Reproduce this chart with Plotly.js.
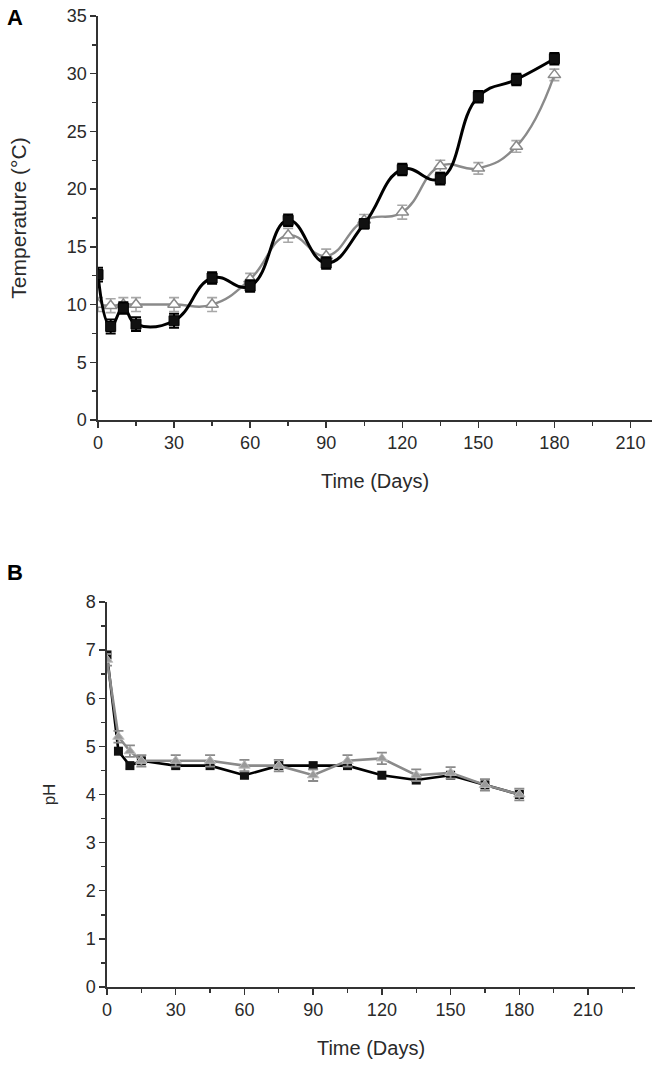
<!DOCTYPE html>
<html>
<head>
<meta charset="utf-8">
<script src="https://cdn.plot.ly/plotly-3.0.1.min.js"></script>
<style>
html,body{margin:0;padding:0;background:#fff;}
#chart{width:661px;height:1065px;}
</style>
</head>
<body>
<div id="chart"></div>
<script>
// ---- Data ----
const days = [0, 5, 10, 15, 30, 45, 60, 75, 90, 105, 120, 135, 150, 165, 180];

// Panel A: temperature (°C)
const tempBlack = [12.6, 8.1, 9.7, 8.3, 8.6, 12.3, 11.6, 17.3, 13.6, 17.0, 21.7, 20.9, 28.0, 29.5, 31.3];
const tempBlackErr = [0.6, 0.6, 0.5, 0.6, 0.6, 0.5, 0.5, 0.5, 0.5, 0.4, 0.5, 0.5, 0.5, 0.5, 0.5];
const tempGray = [10.0, 9.9, 10.0, 10.0, 10.0, 10.0, 12.2, 16.0, 14.2, 17.3, 18.0, 22.0, 21.8, 23.7, 29.9];
const tempGrayErr = [0.6, 0.6, 0.6, 0.6, 0.6, 0.6, 0.5, 0.6, 0.6, 0.5, 0.6, 0.5, 0.5, 0.5, 0.5];

// Panel B: pH
const phBlack = [6.9, 4.9, 4.6, 4.7, 4.6, 4.6, 4.4, 4.6, 4.6, 4.6, 4.4, 4.3, 4.4, 4.2, 4.0];
const phBlackErr = [0.06, 0.06, 0.06, 0.06, 0.06, 0.06, 0.06, 0.06, 0.06, 0.06, 0.06, 0.06, 0.06, 0.06, 0.06];
const phGray = [6.8, 5.2, 4.9, 4.7, 4.7, 4.7, 4.6, 4.6, 4.4, 4.7, 4.75, 4.4, 4.45, 4.2, 4.0];
const phGrayErr = [0.12, 0.12, 0.12, 0.12, 0.12, 0.12, 0.12, 0.12, 0.12, 0.12, 0.12, 0.12, 0.12, 0.12, 0.12];

const xTickVals = [0, 30, 60, 90, 120, 150, 180, 210];
const xTickText = ['0', '30', '60', '90', '120', '150', '180', '210'];
const tempTickVals = [0, 5, 10, 15, 20, 25, 30, 35];
const phTickVals = [0, 1, 2, 3, 4, 5, 6, 7, 8];

const W = 661, H = 1065;
const FONT = 'Liberation Sans, Arial, sans-serif';
const AX = '#333333';

const traces = [
  {
    x: days, y: tempGray, xaxis: 'x', yaxis: 'y', mode: 'lines+markers', type: 'scatter',
    line: {color: '#8a8a8a', width: 2.4, shape: 'spline', smoothing: 1.3},
    marker: {symbol: 'triangle-up', size: 11, color: '#ffffff', line: {color: '#8a8a8a', width: 1.5}},
    error_y: {type: 'data', array: tempGrayErr, visible: true, color: '#a8a8a8', thickness: 1.6, width: 5},
    name: 'Series 2', showlegend: false
  },
  {
    x: days, y: tempBlack, xaxis: 'x', yaxis: 'y', mode: 'lines+markers', type: 'scatter',
    line: {color: '#000000', width: 3, shape: 'spline', smoothing: 1.3},
    marker: {symbol: 'square', size: 10, color: '#111111', line: {color: '#000', width: 1}},
    error_y: {type: 'data', array: tempBlackErr, visible: true, color: '#000000', thickness: 2, width: 5},
    name: 'Series 1', showlegend: false
  },
  {
    x: days, y: phBlack, xaxis: 'x2', yaxis: 'y2', mode: 'lines+markers', type: 'scatter',
    line: {color: '#000000', width: 2.6},
    marker: {symbol: 'square', size: 9, color: '#111111'},
    error_y: {type: 'data', array: phBlackErr, visible: true, color: '#000', thickness: 1.5, width: 4},
    name: 'Series 1', showlegend: false
  },
  {
    x: days, y: phGray, xaxis: 'x2', yaxis: 'y2', mode: 'lines+markers', type: 'scatter',
    line: {color: '#8a8a8a', width: 2.6},
    marker: {symbol: 'triangle-up', size: 10, color: '#9a9a9a', line: {color: '#bdbdbd', width: 1}},
    error_y: {type: 'data', array: phGrayErr, visible: true, color: '#8a8a8a', thickness: 1.8, width: 5},
    name: 'Series 2', showlegend: false
  }
];

function xAxis(domain, range, anchor, standoff) {
  return {
    domain: domain, range: range, anchor: anchor,
    showline: true, linecolor: AX, linewidth: 1.6, mirror: false,
    showgrid: false, zeroline: false,
    ticks: 'outside', ticklen: 6, tickwidth: 1.4, tickcolor: AX,
    tickvals: xTickVals, ticktext: xTickText,
    tickfont: {family: FONT, size: 18, color: '#2a2a2a'},
    minor: {ticks: 'outside', ticklen: 4, tickwidth: 1.4, tickcolor: AX, dtick: 15, tick0: 15, showgrid: false},
    title: {text: 'Time (Days)', font: {family: FONT, size: 20, color: '#2a2a2a'}, standoff: standoff}
  };
}
function yAxis(domain, range, anchor, vals, minorD, title, ts, standoff) {
  return {
    domain: domain, range: range, anchor: anchor,
    showline: true, linecolor: AX, linewidth: 1.6,
    showgrid: false, zeroline: false,
    ticks: 'outside', ticklen: 6, tickwidth: 1.4, tickcolor: AX,
    tickvals: vals, tickfont: {family: FONT, size: 18, color: '#2a2a2a'},
    minor: {ticks: 'outside', ticklen: 4, tickwidth: 1.4, tickcolor: AX, dtick: minorD, tick0: 0, showgrid: false},
    title: {text: title, font: {family: FONT, size: ts, color: '#2a2a2a'}, standoff: standoff}
  };
}

const layout = {
  width: W, height: H,
  margin: {l: 0, r: 0, t: 0, b: 0},
  paper_bgcolor: '#fff', plot_bgcolor: '#fff',
  showlegend: false,
  xaxis: xAxis([98 / W, 652 / W], [0, 218.5], 'y', 22),
  yaxis: yAxis([(H - 420) / H, (H - 16) / H], [0, 35], 'x', tempTickVals, 2.5, 'Temperature (°C)', 21, 34),
  xaxis2: xAxis([107 / W, 635 / W], [0, 230.5], 'y2', 22),
  yaxis2: yAxis([(H - 987) / H, (H - 602) / H], [0, 8], 'x2', phTickVals, 0.5, 'pH', 17, 26),
  annotations: [
    {text: '<b>A</b>', xref: 'paper', yref: 'paper', x: 15 / W, y: (H - 18) / H, showarrow: false,
     font: {family: FONT, size: 22, color: '#000'}, xanchor: 'center', yanchor: 'middle'},
    {text: '<b>B</b>', xref: 'paper', yref: 'paper', x: 15 / W, y: (H - 572) / H, showarrow: false,
     font: {family: FONT, size: 22, color: '#000'}, xanchor: 'center', yanchor: 'middle'}
  ]
};

Plotly.newPlot('chart', traces, layout, {staticPlot: true, displayModeBar: false});
</script>
</body>
</html>
